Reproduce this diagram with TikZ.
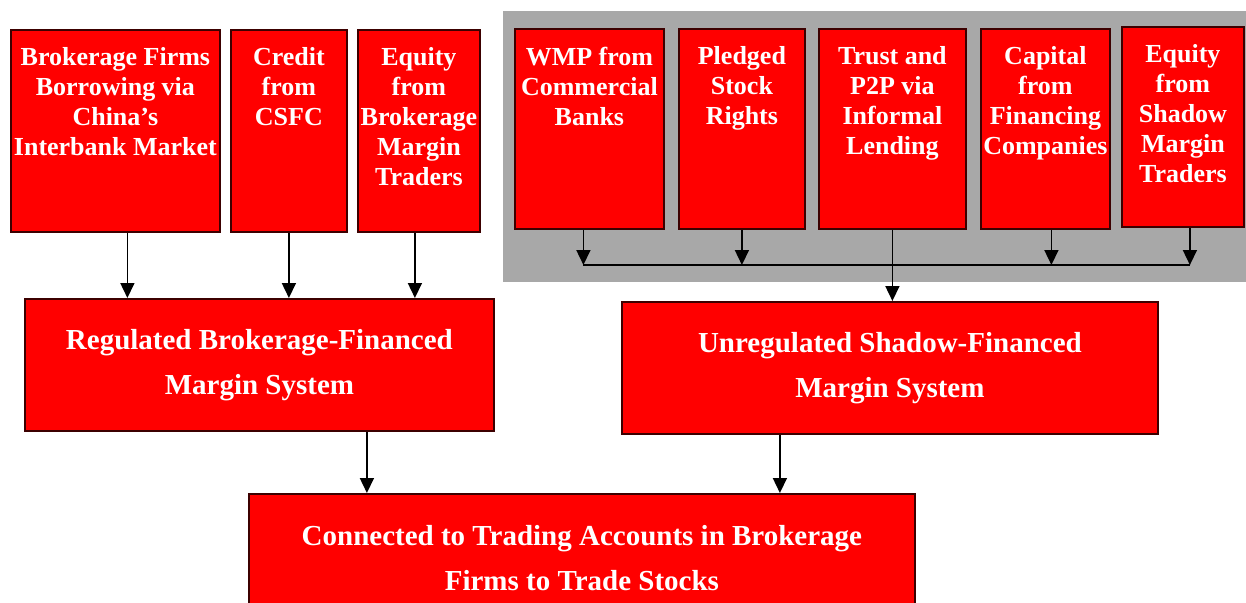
\documentclass[tikz,border=0pt]{standalone}
\usepackage{fontspec}
\setmainfont{Liberation Serif}
\usetikzlibrary{positioning,arrows.meta}

\definecolor{boxred}{RGB}{255,0,0}
\definecolor{boxedge}{RGB}{60,0,0}
\definecolor{shadegray}{RGB}{168,168,168}

\begin{document}
\begin{tikzpicture}[x=1pt, y=-1pt,
    srcbox/.style={rectangle, draw=boxedge, fill=boxred, line width=1.8pt,
        anchor=north west, inner sep=0pt, minimum height=200pt},
    srctext/.style={text=white, font=\fontsize{26}{30}\selectfont\bfseries,
        align=center, inner sep=0pt},
    sysbox/.style={rectangle, draw=boxedge, fill=boxred, line width=1.8pt,
        anchor=north west, minimum height=132pt, text=white,
        font=\fontsize{29}{45}\selectfont\bfseries, align=center},
    >={Triangle[width=14pt,length=15pt]}, line width=1.6pt]

    \useasboundingbox (0,0) rectangle (1246,602);

    % shadow sources sit on a grey panel
    \fill[shadegray] (503,11) rectangle (1246,282);

    % regulated sources
    \node[srcbox, minimum width=209pt, minimum height=202pt] (bfb) at (10,29) {};
    \node[srcbox, minimum width=116pt, minimum height=202pt] (csfc) at (230,29) {};
    \node[srcbox, minimum width=122pt, minimum height=202pt] (ebm) at (357,29) {};
    \node[srctext, below=18pt of bfb.north] (bfb-t)
        {Brokerage Firms\\Borrowing via\\China’s\\Interbank Market};
    \node[srctext, below=18pt of csfc.north] (csfc-t) {Credit\\from\\CSFC};
    \node[srctext, below=18pt of ebm.north] (ebm-t)
        {Equity\\from\\Brokerage\\Margin\\Traders};

    % shadow sources
    \node[srcbox, minimum width=149pt] (wmp) at (514,28) {};
    \node[srcbox, minimum width=126pt] (psr) at (678,28) {};
    \node[srcbox, minimum width=147pt] (tpl) at (818,28) {};
    \node[srcbox, minimum width=129pt] (cfc) at (980,28) {};
    \node[srcbox, minimum width=122pt] (esm) at (1121,26) {};
    \node[srctext, below=18pt of wmp.north] (wmp-t) {WMP from\\Commercial\\Banks};
    \node[srctext, below=18pt of psr.north] (psr-t) {Pledged\\Stock\\Rights};
    \node[srctext, below=18pt of tpl.north] (tpl-t)
        {Trust and\\P2P via\\Informal\\Lending};
    \node[srctext, below=18pt of cfc.north] (cfc-t)
        {Capital\\from\\Financing\\Companies};
    \node[srctext, below=18pt of esm.north] (esm-t)
        {Equity\\from\\Shadow\\Margin\\Traders};

    % the two margin systems and the accounts
    \node[sysbox, minimum width=469pt] (reg) at (24,298)
        {Regulated Brokerage-Financed\\Margin System};
    \node[sysbox, minimum width=536pt] (unreg) at (621,301)
        {Unregulated Shadow-Financed\\Margin System};
    \node[sysbox, minimum width=666pt, minimum height=128pt] (conn) at (248,493)
        {Connected to Trading Accounts in Brokerage\\Firms to Trade Stocks};

    \coordinate (bus) at (0,265);

    \draw[->] ([xshift=12pt]bfb.south) -- ([xshift=12pt]bfb.south |- reg.north);
    \draw[->] (csfc.south) -- (csfc.south |- reg.north);
    \draw[->] ([xshift=-4pt]ebm.south) -- ([xshift=-4pt]ebm.south |- reg.north);

    \draw ([xshift=-6pt]wmp.south |- bus) -- ([xshift=7pt]esm.south |- bus);
    \draw[->] ([xshift=-6pt]wmp.south) -- ([xshift=-6pt]wmp.south |- bus);
    \draw[->] (psr.south) -- (psr.south |- bus);
    \draw[->] (tpl.south) -- (tpl.south |- unreg.north);
    \draw[->] ([xshift=6pt]cfc.south) -- ([xshift=6pt]cfc.south |- bus);
    \draw[->] ([xshift=7pt]esm.south) -- ([xshift=7pt]esm.south |- bus);

    \draw[->] ([xshift=-215pt]conn.north |- reg.south) -- ([xshift=-215pt]conn.north);
    \draw[->] ([xshift=198pt]conn.north |- unreg.south) -- ([xshift=198pt]conn.north);
\end{tikzpicture}
\end{document}
